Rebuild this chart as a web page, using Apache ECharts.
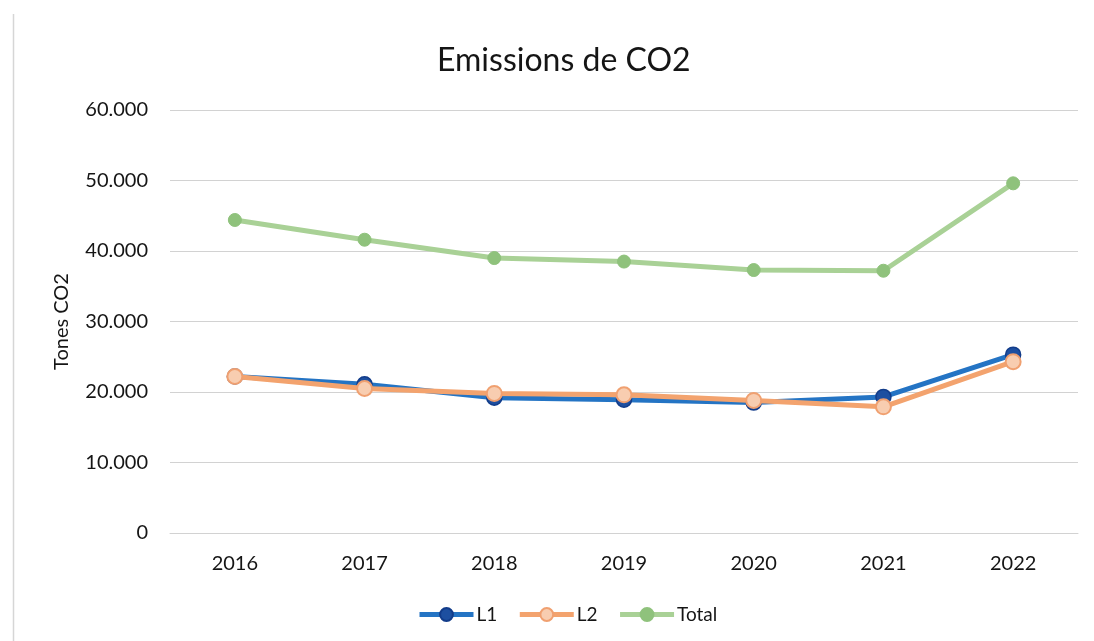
<!DOCTYPE html>
<html>
<head>
<meta charset="utf-8">
<script src="https://cdn.jsdelivr.net/npm/echarts@6/dist/echarts.min.js"></script>
<style>
  html, body { margin: 0; padding: 0; background: #ffffff; }
  #chart { width: 1094px; height: 641px; }
</style>
</head>
<body>
<div id="chart"></div>
<script>
// Annual CO2 emissions (tonnes) per line and overall
const years = ['2016', '2017', '2018', '2019', '2020', '2021', '2022'];
const l1 = [22200, 21100, 19200, 18900, 18500, 19300, 25300];
const l2 = [22200, 20500, 19800, 19600, 18800, 17900, 24300];
const total = [44400, 41600, 39000, 38500, 37300, 37200, 49600];
const yTickLabels = ['0', '10.000', '20.000', '30.000', '40.000', '50.000', '60.000'];

const font = 'Lato, "Open Sans", sans-serif';
const chart = echarts.init(document.getElementById('chart'), null, { renderer: 'canvas' });

chart.setOption({
  backgroundColor: '#ffffff',
  animation: false,
  title: {
    text: 'Emissions de CO2',
    left: 432,
    top: 40,
    textStyle: { fontFamily: font, fontSize: 32, fontWeight: 'normal', color: '#151515' }
  },
  legend: {
    bottom: 12,
    left: 412,
    itemWidth: 54,
    itemHeight: 16,
    itemGap: 20,
    textStyle: { fontFamily: font, fontSize: 19, color: '#151515', padding: [0, 0, 0, -2] },
    lineStyle: { width: 5 },
    data: ['L1', 'L2', 'Total']
  },
  grid: { left: 170, right: 16, top: 110, bottom: 108, containLabel: false },
  xAxis: {
    type: 'category',
    data: years,
    boundaryGap: true,
    axisLine: { show: true, lineStyle: { color: '#d2d2d2', width: 1 } },
    axisTick: { show: false },
    axisLabel: { fontFamily: font, fontSize: 20, color: '#151515', margin: 21 }
  },
  yAxis: {
    type: 'value',
    min: 0,
    max: 60000,
    interval: 10000,
    name: 'Tones CO2',
    nameLocation: 'middle',
    nameGap: 98,
    nameRotate: 90,
    nameTextStyle: { fontFamily: font, fontSize: 20, color: '#151515' },
    axisLine: { show: false },
    axisTick: { show: false },
    splitLine: { lineStyle: { color: '#d2d2d2', width: 1 } },
    axisLabel: {
      fontFamily: font, fontSize: 20, color: '#151515', margin: 22,
      formatter: v => yTickLabels[Math.round(v / 10000)]
    }
  },
  graphic: [{
    type: 'line',
    shape: { x1: 13.5, y1: 14, x2: 13.5, y2: 641 },
    style: { stroke: '#d6d6d6', lineWidth: 1.5 }
  }],
  series: [
    {
      name: 'L1', type: 'line', data: l1, z: 3,
      symbol: 'circle', symbolSize: 15,
      lineStyle: { color: '#2474c4', width: 5 },
      itemStyle: { color: '#1d4fa0', borderColor: '#123c8a', borderWidth: 1.5 }
    },
    {
      name: 'L2', type: 'line', data: l2, z: 4,
      symbol: 'circle', symbolSize: 15,
      lineStyle: { color: '#f3a36e', width: 5 },
      itemStyle: { color: '#f8cdb0', borderColor: '#f0a070', borderWidth: 2 }
    },
    {
      name: 'Total', type: 'line', data: total, z: 2,
      symbol: 'circle', symbolSize: 13,
      lineStyle: { color: '#a9d196', width: 5 },
      itemStyle: { color: '#8fc27c', borderColor: '#8fc27c', borderWidth: 1 }
    }
  ]
});
</script>
</body>
</html>
